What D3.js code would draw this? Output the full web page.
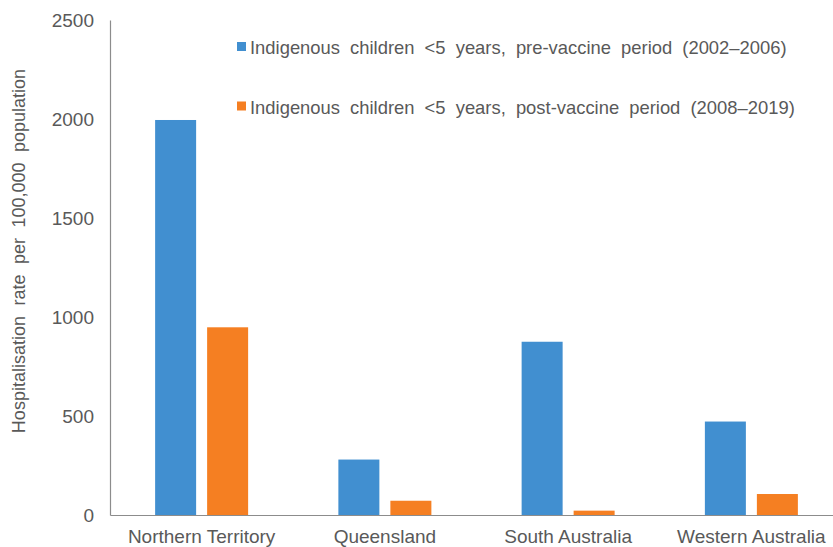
<!DOCTYPE html>
<html>
<head>
<meta charset="utf-8">
<script src="https://cdn.jsdelivr.net/npm/d3@7"></script>
<style>
  html, body { margin: 0; padding: 0; background: #fff; }
  svg { display: block; font-family: "Liberation Sans", Arial, sans-serif; }
</style>
</head>
<body>
<svg id="chart" width="833" height="547"></svg>
<script>
// Jurisdictions and hospitalisation rates per 100,000 population
const categories = ["Northern Territory", "Queensland", "South Australia", "Western Australia"];
const preVaccine = [1995, 280, 875, 472];
const postVaccine = [948, 72, 22, 106];
const seriesNames = [
  "Indigenous children <5 years, pre-vaccine period (2002\u20132006)",
  "Indigenous children <5 years, post-vaccine period (2008\u20132019)"
];
const yTicks = [0, 500, 1000, 1500, 2000, 2500];

const colors = ["#418fd0", "#f57f22"];
const textColor = "#595959";
const axisColor = "#8c8c8c";

const svg = d3.select("#chart");
const plotLeft = 110, plotRight = 843, plotTop = 20, plotBottom = 515;

const x = d3.scaleBand().domain(categories).range([plotLeft, plotRight]).paddingInner(0).paddingOuter(0);
const y = d3.scaleLinear().domain([0, 2500]).range([plotBottom, plotTop]);

// bars: two per jurisdiction, side by side within each band
const barW = 41, gap = 11;
const groupW = barW * 2 + gap;
const series = [preVaccine, postVaccine];
series.forEach((vals, si) => {
  svg.append("g").selectAll("rect")
    .data(categories.map((c, i) => ({ c, v: vals[i] })))
    .join("rect")
    .attr("x", d => x(d.c) + (x.bandwidth() - groupW) / 2 + si * (barW + gap))
    .attr("y", d => y(d.v))
    .attr("width", barW)
    .attr("height", d => y(0) - y(d.v))
    .attr("fill", colors[si]);
});

// y axis: line with labels only
const yAxis = svg.append("g")
  .attr("transform", `translate(${plotLeft},0)`)
  .call(d3.axisLeft(y).tickValues(yTicks).tickSize(0).tickPadding(16).tickFormat(d3.format("d")));
yAxis.select(".domain").attr("stroke", axisColor).attr("stroke-width", 1.2);
yAxis.selectAll("text").attr("fill", textColor).attr("font-size", 19)
  .attr("font-family", '"Liberation Sans", Arial, sans-serif');

// x axis: baseline and category labels
const xAxis = svg.append("g")
  .attr("transform", `translate(0,${plotBottom})`)
  .call(d3.axisBottom(x).tickSize(0).tickPadding(0));
xAxis.select(".domain").attr("stroke", axisColor).attr("stroke-width", 1.2);
xAxis.selectAll("text").attr("fill", textColor).attr("font-size", 19)
  .attr("y", 27.5).attr("dy", null)
  .attr("font-family", '"Liberation Sans", Arial, sans-serif');

// y axis title
svg.append("text")
  .attr("transform", "translate(25,251) rotate(-90)")
  .attr("text-anchor", "middle")
  .attr("fill", textColor)
  .attr("font-size", 18)
  .attr("word-spacing", 5.5)
  .text("Hospitalisation rate per 100,000 population");

// legend
const legend = svg.append("g");
seriesNames.forEach((name, i) => {
  const ly = 42 + i * 59.5;
  legend.append("rect").attr("x", 237).attr("y", ly).attr("width", 9).attr("height", 9).attr("fill", colors[i]);
  legend.append("text")
    .attr("x", 250).attr("y", ly + 12)
    .attr("fill", textColor)
    .attr("font-size", 18.4)
    .attr("word-spacing", 5)
    .text(name);
});
</script>
</body>
</html>
